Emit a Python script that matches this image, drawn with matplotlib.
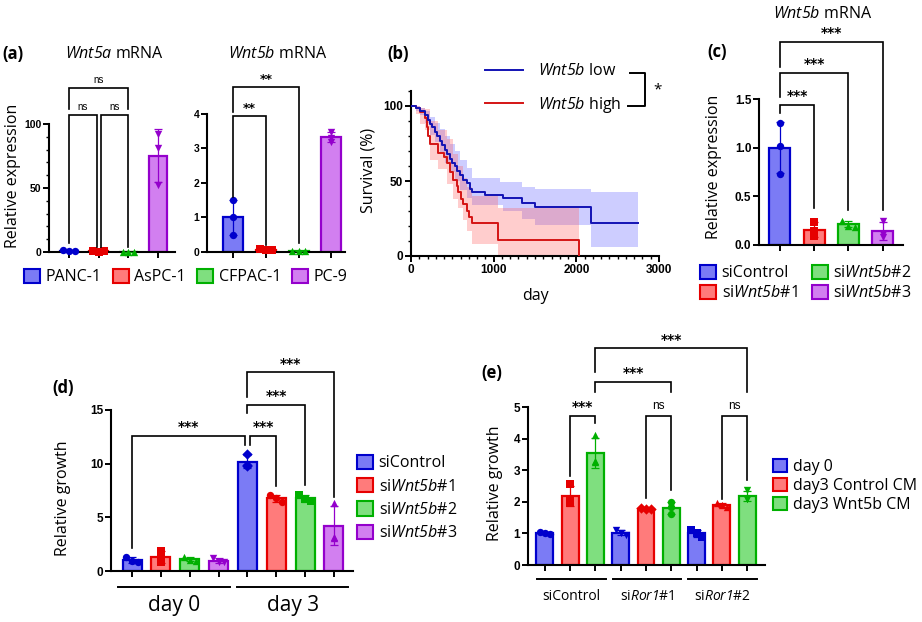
import numpy as np
import matplotlib
matplotlib.use("Agg")
import matplotlib.pyplot as plt
from matplotlib.patches import Patch
from matplotlib.lines import Line2D
from matplotlib.ticker import MultipleLocator

plt.rcParams['font.family'] = ['Open Sans', 'DejaVu Sans']
# every math segment here is an italic gene name, digits included
plt.rcParams['mathtext.fontset'] = 'custom'
plt.rcParams['mathtext.rm'] = 'Open Sans:italic'
plt.rcParams['mathtext.it'] = 'Open Sans:italic'
plt.rcParams['mathtext.bf'] = 'Open Sans:bold'

# ---- data ----
cell_lines = ['PANC-1', 'AsPC-1', 'CFPAC-1', 'PC-9']
wnt5a_pts = [[1.8, 1.0, 0.6], [0.5, 0.3, 0.4], [0.3, 0.15, 0.2], [92, 81.5, 52]]
wnt5b_pts = [[1.5, 1.0, 0.5], [0.09, 0.06, 0.05], [0.03, 0.02, 0.02], [3.48, 3.3, 3.2]]

# Kaplan-Meier (day, survival %)
low_day = [0, 60, 110, 170, 200, 230, 260, 290, 320, 350, 380, 411, 440, 472, 500,
           532, 560, 593, 630, 673, 714, 734, 895, 1116, 1338, 1499, 2177, 2740]
low_surv = [100, 99, 97, 94, 91, 88, 86, 83, 80, 77, 74, 71, 68, 65, 62,
            60, 57, 54, 51, 48.5, 45, 43, 40.7, 38.4, 35.6, 32.4, 21.8, 21.8]
high_day = [0, 60, 110, 169, 190, 210, 230, 330, 400, 431, 472, 512, 552, 572,
            610, 633, 673, 700, 734, 1056, 2032]
high_surv = [100, 99, 96, 92, 86, 80, 75, 69, 66, 62, 56, 51, 47, 43,
             38, 35, 30, 26, 22, 11, 0]
low_band_day = [0, 60, 110, 170, 230, 290, 351, 411, 472, 532, 593, 673, 734,
                1076, 1116, 1338, 1499, 2177, 2740]
low_band_hi = [100, 100, 99, 97, 93, 89, 85, 80, 75, 70, 64, 59, 52,
               49.5, 49.5, 46, 44.5, 42.5, 42.5]
low_band_lo = [100, 97, 94, 89, 81, 76, 69, 62, 56, 50, 44, 39, 34,
               34, 30, 25, 20.7, 6.2, 6.2]
high_band_day = [0, 60, 110, 169, 230, 330, 431, 512, 572, 633, 673, 734, 1056, 2032]
high_band_hi = [100, 100, 99, 98, 90, 84, 78, 68, 60, 52, 46, 40, 32, 32]
high_band_lo = [100, 95, 88, 84, 64, 58, 48, 38, 32, 24, 17, 8, 0, 0]

sirna = ['siControl', 'si$Wnt5b$#1', 'si$Wnt5b$#2', 'si$Wnt5b$#3']
knockdown_pts = [[1.25, 1.02, 0.73], [0.24, 0.14, 0.09], [0.25, 0.20, 0.19], [0.25, 0.11, 0.08]]

days_d = ['day 0', 'day 3']
growth_d_pts = [[1.35, 0.95, 0.8], [1.9, 1.3, 0.8], [1.3, 1.0, 0.95], [1.25, 0.85, 0.8],
                [10.9, 9.9, 9.8], [7.1, 6.8, 6.4], [7.1, 6.7, 6.5], [6.3, 3.2, 3.1]]

groups_e = ['siControl', 'si$Ror1$#1', 'si$Ror1$#2']
treat_e = ['day 0', 'day3 Control CM', 'day3 Wnt5b CM']
growth_e_pts = [[1.05, 1.0, 0.98], [2.55, 2.05, 1.95], [4.1, 3.3, 3.25],
                [1.12, 1.0, 0.95], [1.8, 1.78, 1.76], [1.98, 1.82, 1.6],
                [1.12, 1.0, 0.9], [1.95, 1.9, 1.85], [2.38, 2.1, 2.08]]

# ---- colours ----
face = ['#7b7bf5', '#ff7b7b', '#7fdf7f', '#d27ff0']
edge = ['#0000cc', '#e60000', '#00b000', '#9400cc']

fig = plt.figure(figsize=(9.22, 6.22), dpi=100)
W, H = 922, 622


def fx(px):
    return px / W


def fy(py):
    return 1 - py / H


def add_ax(left, top, right, bottom):
    return fig.add_axes([fx(left), fy(bottom), (right - left) / W, (bottom - top) / H])


def style(ax):
    ax.spines['top'].set_visible(False)
    ax.spines['right'].set_visible(False)
    ax.spines['left'].set_linewidth(1.5)
    ax.spines['bottom'].set_linewidth(1.5)
    ax.tick_params(direction='out', length=4, width=1.4, labelsize=8.5, pad=1.5)
    ax.tick_params(which='minor', direction='out', length=2.5, width=1.0)


def bars(ax, pts_list, faces, edges, markers, width, span):
    for i, pts in enumerate(pts_list):
        pts = np.array(pts, dtype=float)
        m = pts.mean()
        sd = pts.std(ddof=1)
        ax.bar(i, m, width, color=faces[i], edgecolor=edges[i], linewidth=1.6, zorder=2)
        ax.errorbar(i, m, yerr=sd, color=edges[i], capsize=3, elinewidth=0.9,
                    capthick=0.9, zorder=3, clip_on=False)
        if pts.max() - pts.min() < 0.05 * span:
            offs = np.array([-0.2, 0.0, 0.2]) * width / 0.65
        else:
            offs = np.zeros(3)
        ax.scatter(i + offs, pts, marker=markers[i], s=28, color=edges[i],
                   zorder=4, clip_on=False, linewidths=0)
    ax.set_xticks(range(len(pts_list)))
    ax.set_xticklabels([])


def bracket(ax, x1, x2, y, b1, b2, txt, fs=10):
    ax.plot([x1, x1, x2, x2], [b1, y, y, b2], color='black', lw=1.2,
            clip_on=False, zorder=5, solid_joinstyle='miter')
    if txt == 'ns':
        ax.annotate(txt, ((x1 + x2) / 2, y), xytext=(0, 2.5), textcoords='offset points',
                    ha='center', va='bottom', fontsize=fs, family='Liberation Sans',
                    annotation_clip=False)
    else:
        ax.annotate(txt, ((x1 + x2) / 2, y), xytext=(0, 1), textcoords='offset points',
                    ha='center', va='bottom', fontsize=fs, family='DejaVu Sans',
                    weight='bold', annotation_clip=False)


def ylabel(px, py, txt):
    fig.text(fx(px), fy(py), txt, rotation=90, ha='center', va='center', fontsize=11.5)


def panel(px, py, txt):
    fig.text(fx(px), fy(py), txt, ha='left', va='center', fontsize=12, weight='bold')


# ---- (a) ----
ax1 = add_ax(49, 124, 175, 252)
style(ax1)
ax1.set_xlim(-0.67, 3.57)
ax1.set_ylim(0, 100)
ax1.set_yticks([0, 50, 100])
ax1.yaxis.set_minor_locator(MultipleLocator(10))
ax1.tick_params(labelsize=7.5)
bars(ax1, wnt5a_pts, face, edge, ['o', 's', '^', 'v'], 0.62, 100)
bracket(ax1, 0, 0.93, 107, 7, 4, 'ns', 7)
bracket(ax1, 1.07, 2, 107, 4, 4, 'ns', 7)
bracket(ax1, 0, 2, 128, 112, 112, 'ns', 7)
fig.text(fx(114), fy(54), '$Wnt5a$ mRNA', ha='center', va='center', fontsize=11.5)

ax2 = add_ax(207, 114, 345, 252)
style(ax2)
ax2.set_xlim(-0.8, 3.42)
ax2.set_ylim(0, 4)
ax2.set_yticks([0, 1, 2, 3, 4])
ax2.tick_params(labelsize=7.5)
bars(ax2, wnt5b_pts, face, edge, ['o', 's', '^', 'v'], 0.61, 4)
bracket(ax2, 0, 1, 3.94, 1.6, 0.2, '**', 9)
bracket(ax2, 0, 2, 4.78, 4.05, 0.25, '**', 9)
fig.text(fx(278), fy(54), '$Wnt5b$ mRNA', ha='center', va='center', fontsize=11.5)

ylabel(13, 176, 'Relative expression')
panel(2, 54, '(a)')
fig.legend([Patch(facecolor=face[i], edgecolor=edge[i], linewidth=1.5) for i in range(4)],
           cell_lines, loc='center', bbox_to_anchor=(fx(186), fy(277)), ncol=4,
           frameon=False, fontsize=11.5, handlelength=1.0, handleheight=1.0,
           handletextpad=0.35, columnspacing=0.7, borderpad=0, borderaxespad=0)

# ---- (b) ----
axb = add_ax(411, 91, 659, 256)
style(axb)
axb.set_xlim(0, 3000)
axb.set_ylim(0, 110)
axb.set_xticks([0, 1000, 2000, 3000])
axb.set_yticks([0, 50, 100])
axb.xaxis.set_minor_locator(MultipleLocator(100))
axb.yaxis.set_minor_locator(MultipleLocator(10))
blue_km = '#1212b4'
red_km = '#d41414'
axb.fill_between(low_band_day, low_band_lo, low_band_hi, step='post',
                 color='#5a5aff', alpha=0.3, lw=0, zorder=1)
axb.fill_between(high_band_day, high_band_lo, high_band_hi, step='post',
                 color='#ff5a5a', alpha=0.3, lw=0, zorder=1)
axb.step(high_day, high_surv, where='post', color=red_km, lw=1.4, zorder=3)
axb.step(low_day, low_surv, where='post', color=blue_km, lw=1.4, zorder=4)
axb.set_xlabel('day', fontsize=11.5, labelpad=9)
ylabel(368, 170, 'Survival (%)')
panel(387, 54, '(b)')
axb.legend([Line2D([], [], color=blue_km, lw=1.4), Line2D([], [], color=red_km, lw=1.4)],
           ['$Wnt5b$ low', '$Wnt5b$ high'], loc='center left',
           bbox_to_anchor=(fx(485), fy(89)), bbox_transform=fig.transFigure,
           frameon=False, fontsize=11.5, handlelength=2.4, handletextpad=0.9,
           labelspacing=0.95, borderpad=0, borderaxespad=0)
fig.add_artist(Line2D([fx(630), fx(645), fx(645), fx(628)], [fy(73), fy(73), fy(106), fy(106)],
                      color='black', lw=1.4))
fig.text(fx(658), fy(90), '*', ha='center', va='center', fontsize=11)

# ---- (c) ----
axc = add_ax(759, 99, 903, 245)
style(axc)
axc.set_xlim(-0.61, 3.59)
axc.set_ylim(0, 1.5)
axc.set_yticks([0, 0.5, 1.0, 1.5])
axc.set_yticklabels(['0.0', '0.5', '1.0', '1.5'])
bars(axc, knockdown_pts, face, edge, ['o', 's', '^', 'v'], 0.61, 1.5)
bracket(axc, 0, 1, 1.44, 1.36, 0.38, '***')
bracket(axc, 0, 2, 1.77, 1.52, 0.36, '***')
bracket(axc, 0, 3, 2.09, 1.83, 0.36, '***')
fig.text(fx(823), fy(14), '$Wnt5b$ mRNA', ha='center', va='center', fontsize=11.5)
ylabel(714, 167, 'Relative expression')
panel(707, 52, '(c)')
fig.legend([Patch(facecolor=face[i], edgecolor=edge[i], linewidth=1.5) for i in range(4)],
           sirna, loc='center', bbox_to_anchor=(fx(806), fy(283)), ncol=2,
           frameon=False, fontsize=11.5, handlelength=1.0, handleheight=1.0,
           handletextpad=0.35, columnspacing=0.9, labelspacing=0.2,
           borderpad=0, borderaxespad=0)

# ---- (d) ----
axd = add_ax(111, 410, 353, 571)
style(axd)
axd.set_xlim(-0.73, 7.66)
axd.set_ylim(0, 15)
axd.set_yticks([0, 5, 10, 15])
bars(axd, growth_d_pts, face * 2, edge * 2, ['o', 's', '^', 'v', 'D', 'o', 's', '^'], 0.66, 15)
bracket(axd, 0, 3.92, 12.6, 2.1, 11.7, '***')
bracket(axd, 4.09, 5, 12.6, 11.7, 7.9, '***')
bracket(axd, 4, 6, 15.5, 14.7, 8.0, '***')
bracket(axd, 4, 7, 18.5, 16.2, 6.9, '***')
trans_d = axd.get_xaxis_transform()
for g, name in enumerate(days_d):
    x0, x1 = 4 * g - 0.49 + 0.13 * g, 4 * g + 3.4 + 0.1 * g
    axd.plot([x0, x1], [-0.1, -0.1], color='black', lw=1.4, transform=trans_d, clip_on=False)
    axd.text((x0 + x1) / 2, -0.215, name, transform=trans_d, ha='center', va='center',
             fontsize=15)
ylabel(63, 498, 'Relative growth')
panel(52, 388, '(d)')
fig.legend([Patch(facecolor=face[i], edgecolor=edge[i], linewidth=1.5) for i in range(4)],
           sirna, loc='center left', bbox_to_anchor=(fx(357), fy(498)),
           frameon=False, fontsize=11.5, handlelength=1.0, handleheight=1.0,
           handletextpad=0.35, labelspacing=0.42, borderpad=0, borderaxespad=0)

# ---- (e) ----
axe = add_ax(528, 407, 765, 565)
style(axe)
axe.set_xlim(-0.67, 8.71)
axe.set_ylim(0, 5)
axe.set_yticks([0, 1, 2, 3, 4, 5])
bars(axe, growth_e_pts, face[:3] * 3, edge[:3] * 3,
     ['o', 's', '^', 'v', 'D', 'o', 's', '^', 'v'], 0.67, 5)
bracket(axe, 1, 2, 4.72, 2.82, 4.49, '***')
bracket(axe, 4, 5, 4.72, 2.12, 2.37, 'ns', 8.5)
bracket(axe, 7, 8, 4.72, 2.08, 2.7, 'ns', 8.5)
bracket(axe, 2, 5, 5.8, 5.48, 5.48, '***')
bracket(axe, 2, 8, 6.86, 6.12, 5.48, '***')
trans_e = axe.get_xaxis_transform()
for g, name in enumerate(groups_e):
    x0, x1 = 3 * g - 0.32, 3 * g + 2.4
    axe.plot([x0, x1], [-0.089, -0.089], color='black', lw=1.4, transform=trans_e, clip_on=False)
    axe.text((x0 + x1) / 2, -0.2, name, transform=trans_e, ha='center', va='center',
             fontsize=10)
ylabel(495, 483, 'Relative growth')
panel(481, 373, '(e)')
fig.legend([Patch(facecolor=face[i], edgecolor=edge[i], linewidth=1.5) for i in range(3)],
           treat_e, loc='center left', bbox_to_anchor=(fx(773), fy(486)),
           frameon=False, fontsize=11.5, handlelength=0.9, handleheight=0.9,
           handletextpad=0.35, labelspacing=0.18, borderpad=0, borderaxespad=0)

# bold Arial-like tick labels
for ax in [ax1, ax2, axb, axc, axd, axe]:
    for lab in ax.get_xticklabels() + ax.get_yticklabels():
        lab.set_family('Liberation Sans')
        lab.set_fontweight('bold')

fig.savefig('out.png', dpi=100)
